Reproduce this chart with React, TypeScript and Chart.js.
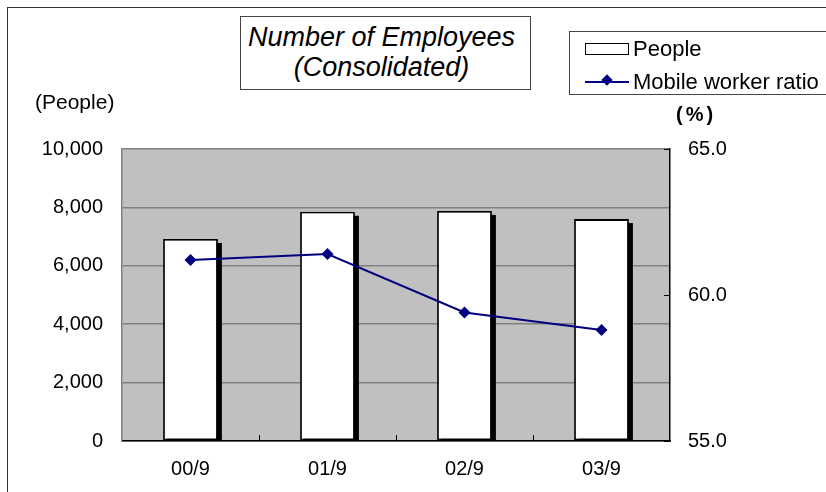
import React, { useEffect, useRef } from "react";
import { Chart, registerables } from "chart.js";

Chart.register(...registerables);

const categories = ["00/9", "01/9", "02/9", "03/9"];
const people = [6920, 7850, 7880, 7600];
const ratio = [61.2, 61.4, 59.4, 58.8];
const leftTicks = [0, 2000, 4000, 6000, 8000, 10000];
const rightTicks = [55, 60, 65];

const FONT = "'Liberation Sans', Arial, sans-serif";

const shadowPlugin = {
  id: "barShadow",
  beforeDatasetDraw(chart: any, args: any) {
    if (args.index !== 0) return;
    const meta = chart.getDatasetMeta(0);
    const ctx = chart.ctx;
    ctx.save();
    ctx.fillStyle = "#000000";
    meta.data.forEach((bar: any) => {
      const p = bar.getProps(["x", "y", "base", "width"], true);
      ctx.fillRect(p.x - p.width / 2 + 4, p.y + 4, p.width, p.base - p.y - 4);
    });
    ctx.restore();
  },
  afterDraw(chart: any) {
    const ctx = chart.ctx;
    const area = chart.chartArea;
    const x = chart.scales.x;
    const y2 = chart.scales.y2;
    ctx.save();
    ctx.strokeStyle = "#000000";
    ctx.lineWidth = 1;
    for (let i = 1; i < categories.length; i++) {
      const px = Math.round((x.getPixelForValue(i - 1) + x.getPixelForValue(i)) / 2) + 0.5;
      ctx.beginPath();
      ctx.moveTo(px, area.bottom);
      ctx.lineTo(px, area.bottom - 6);
      ctx.stroke();
    }
    rightTicks.forEach((v) => {
      const py = Math.round(y2.getPixelForValue(v)) + 0.5;
      ctx.beginPath();
      ctx.moveTo(area.right, py);
      ctx.lineTo(area.right - 6, py);
      ctx.stroke();
    });
    ctx.restore();
  },
};

export default function App() {
  const ref = useRef<HTMLCanvasElement | null>(null);

  useEffect(() => {
    if (!ref.current) return;
    const chart = new Chart(ref.current, {
      data: {
        labels: categories,
        datasets: [
          {
            type: "bar",
            label: "People",
            data: people,
            backgroundColor: "#ffffff",
            borderColor: "#000000",
            borderWidth: 1.8,
            borderSkipped: false,
            barPercentage: 0.4,
            categoryPercentage: 1,
            yAxisID: "y",
            order: 2,
          },
          {
            type: "line",
            label: "Mobile worker ratio",
            data: ratio,
            borderColor: "#000080",
            backgroundColor: "#000080",
            borderWidth: 2,
            pointStyle: "rectRot",
            pointRadius: 6,
            pointBorderWidth: 0,
            yAxisID: "y2",
            order: 1,
          },
        ],
      } as any,
      options: {
        responsive: false,
        animation: false,
        events: [],
        layout: { padding: { top: 149, left: 0, right: 0, bottom: 0 } },
        plugins: {
          legend: { display: false },
          title: { display: false },
          tooltip: { enabled: false },
        },
        scales: {
          x: {
            grid: { display: false, drawTicks: false },
            border: { display: true, color: "#000000", width: 1.5 },
            ticks: { color: "#000000", font: { family: FONT, size: 20 }, padding: 16 },
            afterFit(scale: any) {
              scale.height = 51;
            },
          },
          y: {
            position: "left",
            min: 0,
            max: 10000,
            afterBuildTicks(scale: any) {
              scale.ticks = leftTicks.map((v) => ({ value: v }));
            },
            grid: { color: "#808080", lineWidth: 1.5, drawTicks: false },
            border: { display: true, color: "#808080", width: 1.5 },
            ticks: {
              color: "#000000",
              font: { family: FONT, size: 20 },
              padding: 19,
              callback: (v: any) => Number(v).toLocaleString("en-US"),
            },
            afterFit(scale: any) {
              scale.width = 122;
            },
          },
          y2: {
            position: "right",
            min: 55,
            max: 65,
            afterBuildTicks(scale: any) {
              scale.ticks = rightTicks.map((v) => ({ value: v }));
            },
            grid: { drawOnChartArea: false, drawTicks: false },
            border: { display: true, color: "#000000", width: 1.5 },
            ticks: {
              color: "#000000",
              font: { family: FONT, size: 20 },
              padding: 18,
              callback: (v: any) => Number(v).toFixed(1),
            },
            afterFit(scale: any) {
              scale.width = 156;
            },
          },
        },
      } as any,
      plugins: [
        {
          id: "plotBg",
          beforeDraw(c: any) {
            const a = c.chartArea;
            c.ctx.save();
            c.ctx.fillStyle = "#c0c0c0";
            c.ctx.fillRect(a.left, a.top, a.right - a.left, a.bottom - a.top);
            c.ctx.restore();
          },
        },
        shadowPlugin,
      ],
    });
    return () => chart.destroy();
  }, []);

  const text: React.CSSProperties = { position: "absolute", fontFamily: FONT, color: "#000", whiteSpace: "nowrap" };

  return (
    <div style={{ position: "fixed", left: 0, top: 0, width: 826, height: 492, background: "#fff", overflow: "hidden" }}>
      <div style={{ position: "absolute", left: 7, top: 7, width: 900, height: 600, borderLeft: "1.5px solid #333", borderTop: "1.5px solid #333" }} />
      <canvas ref={ref} width={826} height={492} style={{ position: "absolute", left: 0, top: 0 }} />
      <div
        style={{
          position: "absolute",
          left: 240,
          top: 16,
          width: 291,
          height: 74,
          border: "1px solid #444",
          background: "#fff",
          fontFamily: FONT,
          fontStyle: "italic",
          fontSize: 27,
          lineHeight: "30px",
          textAlign: "center",
          paddingTop: 5,
          paddingRight: 8,
          boxSizing: "border-box",
        }}
      >
        Number of Employees
        <br />
        (Consolidated)
      </div>
      <div
        style={{
          position: "absolute",
          left: 569,
          top: 31,
          width: 300,
          height: 64,
          border: "1px solid #444",
          background: "#fff",
          boxSizing: "border-box",
        }}
      >
        <div style={{ position: "absolute", left: 15, top: 11, width: 44, height: 12, border: "1.5px solid #000", boxSizing: "border-box" }} />
        <div style={{ ...text, left: 63, top: 4, fontSize: 22, lineHeight: "26px" }}>People</div>
        <div style={{ position: "absolute", left: 15, top: 49, width: 44, height: 2, background: "#000080" }} />
        <div style={{ position: "absolute", left: 33, top: 44, width: 8, height: 8, background: "#000080", transform: "rotate(45deg)" }} />
        <div style={{ ...text, left: 63, top: 37, fontSize: 22, lineHeight: "26px" }}>Mobile worker ratio</div>
      </div>
      <div style={{ ...text, left: 35, top: 90, fontSize: 21, lineHeight: "24px" }}>(People)</div>
      <div style={{ ...text, left: 676, top: 102, fontSize: 20, lineHeight: "24px", fontWeight: "bold", letterSpacing: 3 }}>(%)</div>
    </div>
  );
}
